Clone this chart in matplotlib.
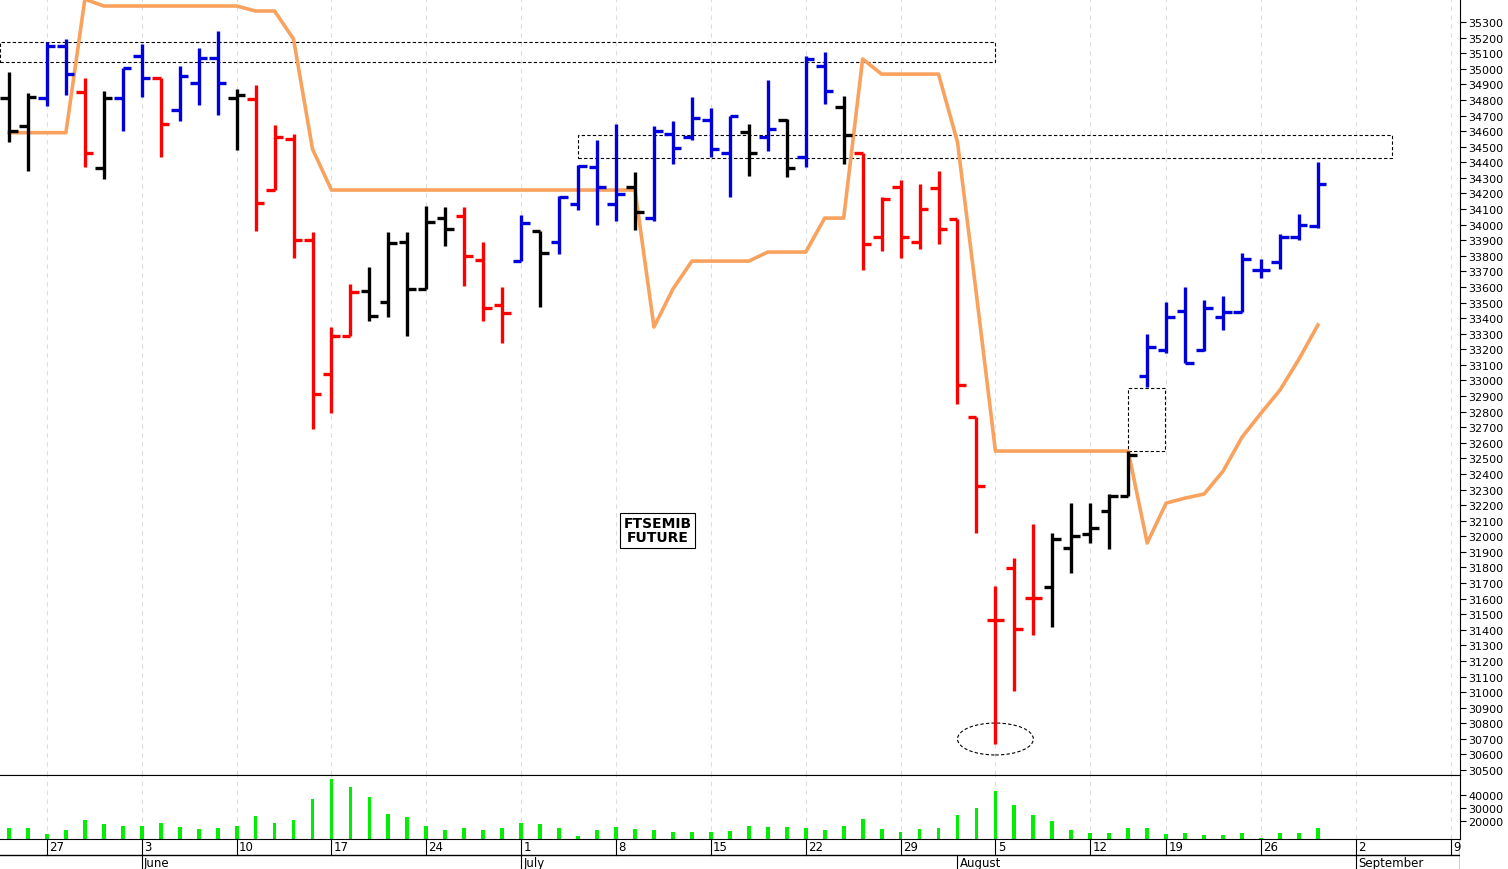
import matplotlib
matplotlib.use("Agg")
import matplotlib.pyplot as plt
from matplotlib.patches import Rectangle, Ellipse
import numpy as np

highs = [34980,34844,35172,35191,34941,34857,35005,35159,34941,35018,35133,35242,34870,34896,34639,34581,33952,33343,33619,33728,
         33952,33952,34119,34113,34113,33888,33600,34061,33959,34183,34382,34543,34645,34337,34633,34665,34819,34748,34697,34645,
         34928,34678,35082,35107,34825,34459,34177,34286,34260,34344,34036,32765,31681,31861,32079,32021,32213,32213,32271,32547,
         33298,33503,33600,33516,33542,33818,33779,33939,34068,34402]
lows = [34530,34344,34761,34832,34370,34293,34600,34819,34434,34665,34768,34703,34479,33959,34222,33786,32688,32791,33285,33381,
        33407,33285,33587,33863,33606,33381,33240,33766,33471,33811,34094,33997,34023,33965,34023,34389,34543,34434,34177,34312,
        34472,34305,34370,34774,34389,33709,33830,33786,33843,33875,32849,32021,30667,31007,31366,31418,31764,31957,31918,32258,
        32958,33176,33112,33189,33323,33439,33657,33715,33901,33978]
opens = [34812,34633,34812,35146,34851,34363,34812,35082,34941,34735,34909,35069,34812,34806,34222,34549,33901,33041,33285,33574,
         33503,33888,33587,34042,34055,33773,33484,33766,33959,33888,34132,34369,34132,34241,34042,34581,34562,34671,34459,34594,
         34562,34671,34434,35018,34755,34459,33920,34241,33888,34235,34036,32765,31463,31796,31604,31675,31925,32015,32162,32258,
         33028,33195,33446,33195,33407,33439,33709,33760,33920,33991]
closes = [34600,34819,35146,34966,34459,34812,35005,34941,34646,34954,35069,34909,34832,34139,34562,33901,32913,33285,33568,33414,
          33882,33587,34016,33972,33798,33465,33433,34010,33818,34177,34376,34241,34196,34081,34600,34491,34684,34485,34697,34459,
          34613,34363,35063,34857,34575,33875,34164,33920,34100,33972,32970,32322,31463,31405,31604,31983,32002,32053,32258,32521,
          33214,33407,33112,33465,33439,33779,33709,33920,33997,34260]
bar_colors = list("kkbbrkbbrbbbkrrrrrrkkkkkrrrbkbbbbkbbbbbkbkbbkrrrrrrrrrrkkkkkbbbbbbbbbb")
trail = [34590,34590,34590,34590,35447,35403,35403,35403,35403,35403,35403,35403,35403,35371,35371,35191,34485,34222,34222,34222,
         34222,34222,34222,34222,34222,34222,34222,34222,34222,34222,34222,34222,34222,34222,33343,33587,33766,33766,33766,33766,
         33824,33824,33824,34042,34042,35063,34966,34966,34966,34966,34530,33550,32547,32547,32547,32547,32547,32547,32547,32547,
         31957,32213,32245,32271,32418,32636,32790,32938,33137,33356]
volume = [14610,14870,9750,13330,21030,17440,16150,16150,18200,15390,14100,14610,16410,24100,18720,21030,36920,52560,46150,38720,
          25640,23080,16410,13080,14870,13080,14610,18200,17950,14610,8200,13080,15130,13850,13080,11800,11800,11540,12570,16410,
          15390,15390,14870,13080,16410,21790,13850,11540,13850,14870,24870,30000,43330,32560,24870,19740,13330,10770,11030,14610,
          14610,10000,11030,9490,9490,10770,7180,11030,10770,14610]
week_pos = [2, 7, 12, 17, 22, 27, 32, 37, 42, 47, 52, 57, 61, 66, 71, 76]
week_labels = ["27","3","10","17","24","1","8","15","22","29","5","12","19","26","2","9"]
month_pos = [7, 27, 50, 71]
month_labels = ["June","July","August","September"]

cmap = {"k": "#000000", "b": "#0000dd", "r": "#ff0000"}
W, H = 1508, 870
fig = plt.figure(figsize=(W/100, H/100), dpi=100)
fig.patch.set_facecolor("white")
xl = (-0.474, 76.49)
axr = 1460/W
ax = fig.add_axes([0, 1-776/H, axr, 776/H])
axv = fig.add_axes([0, 1-840/H, axr, 64/H])
axd = fig.add_axes([0, 0, axr, 30/H])

x = np.arange(len(highs))
cols = [cmap[c] for c in bar_colors]
for a in (ax, axv):
    for p in week_pos:
        a.axvline(p, color="#dddddd", lw=0.8, ls=(0, (4, 4)), zorder=0)
ax.plot(x, trail, color="#f9a25e", lw=2.6, zorder=2)
ax.vlines(x, lows, highs, colors=cols, lw=2.4, zorder=3)
ax.hlines(opens, x-0.45, x, colors=cols, lw=2.4, zorder=3)
ax.hlines(closes, x, x+0.45, colors=cols, lw=2.4, zorder=3)

ax.add_patch(Rectangle((-0.5, 35043), 52.0-(-0.5), 35172-35043, fill=False, ls=(0, (3, 2)), lw=0.8, ec="k"))
ax.add_patch(Rectangle((30.0, 34427), 72.9-30.0, 34575-34427, fill=False, ls=(0, (3, 2)), lw=0.8, ec="k"))
ax.add_patch(Rectangle((59.0, 32547), 1.95, 32951-32547, fill=False, ls=(0, (3, 2)), lw=0.8, ec="k"))
ax.add_patch(Ellipse((52, 30699), 4.0, 205, fill=False, ls=(0, (3, 2)), lw=0.8, ec="k"))
ax.text(34.2, 32040, "FTSEMIB\nFUTURE", ha="center", va="center", fontsize=10, fontweight="bold",
        family="DejaVu Sans", linespacing=1.0,
        bbox=dict(boxstyle="square,pad=0.25", fc="white", ec="k", lw=0.8))

ax.set_xlim(*xl); ax.set_ylim(30468, 35448)
ax.yaxis.tick_right()
ax.set_yticks(np.arange(30500, 35301, 100))
ax.tick_params(axis="y", labelsize=8, length=4, pad=2)
ax.set_xticks([])
for s in ("left", "top"):
    ax.spines[s].set_visible(False)

axv.bar(x, volume, width=0.2, color="#00ee00", zorder=2)
axv.set_xlim(*xl); axv.set_ylim(6150, 55400)
axv.yaxis.tick_right()
axv.set_yticks([20000, 30000, 40000])
axv.tick_params(axis="y", labelsize=8, length=4, pad=2)
axv.set_xticks([])
axv.spines["left"].set_visible(False)

axd.set_xlim(*xl); axd.set_ylim(0, 30)
axd.axis("off")
axd.axhline(14, color="k", lw=1)
axd.plot([xl[1], xl[1]], [0, 30], color="k", lw=1)
for p, l in zip(week_pos, week_labels):
    axd.plot([p, p], [14, 30], color="k", lw=0.8)
    axd.text(p+0.12, 22, l, fontsize=8.5, va="center", ha="left")
for p, l in zip(month_pos, month_labels):
    axd.plot([p, p], [0, 14], color="k", lw=0.8)
    axd.text(p+0.12, 6, l, fontsize=8.5, va="center", ha="left")

fig.savefig("out.png", dpi=100, facecolor="white")
